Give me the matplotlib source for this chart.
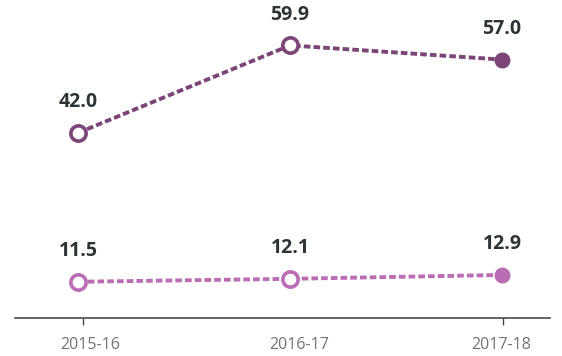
import matplotlib
matplotlib.use("Agg")
import matplotlib.pyplot as plt
import numpy as np

categories = ["2015-16", "2016-17", "2017-18"]
series_top = [42.0, 59.9, 57.0]
series_bottom = [11.5, 12.1, 12.9]

c_top = "#7b4577"
c_bot = "#bb6db3"
c_lab = "#2d3436"

fig = plt.figure(figsize=(5.62, 3.56), dpi=100)
ax = fig.add_axes([0.027, 0.107, 0.952, 0.893])

x = np.arange(len(categories))
# small layout nudges of the axis ticks / labels relative to points
tick_shift = np.array([0.024, 0.043, 0.007])
label_shift = np.array([0.057, 0.043, -0.002])

for vals, col in [(series_top, c_top), (series_bottom, c_bot)]:
    ax.plot(x, vals, color=col, lw=2.8, ls=(0, (1.7, 0.8)), zorder=2)
    for i, v in enumerate(vals):
        if i == len(vals) - 1:
            ax.plot(x[i], v, "o", ms=11.5, mfc=col, mec=col, mew=0, zorder=3)
        else:
            ax.plot(x[i], v, "o", ms=11, mfc="white", mec=col, mew=2.6, zorder=3)
        ax.annotate(f"{v:.1f}", (x[i], v), xytext=(0, 22), textcoords="offset points",
                    ha="center", va="center", fontsize=14, fontweight="bold",
                    color=c_lab, family="Open Sans")

ax.set_xlim(-0.297, 2.228)
ax.set_ylim(4.1, 69.2)
ax.set_xticks(x + label_shift)
ax.set_xticklabels(categories, fontsize=11.5, color="#737373", family="Open Sans")
ax.set_xticks(x + tick_shift, minor=True)
ax.set_yticks([])
for s in ["top", "right", "left"]:
    ax.spines[s].set_visible(False)
ax.spines["bottom"].set_color("#4a4a4a")
ax.spines["bottom"].set_linewidth(1.2)
ax.tick_params(axis="x", which="major", length=0, pad=14)
ax.tick_params(axis="x", which="minor", length=5, width=1, color="#4a4a4a")

fig.savefig("out.png", dpi=100)
